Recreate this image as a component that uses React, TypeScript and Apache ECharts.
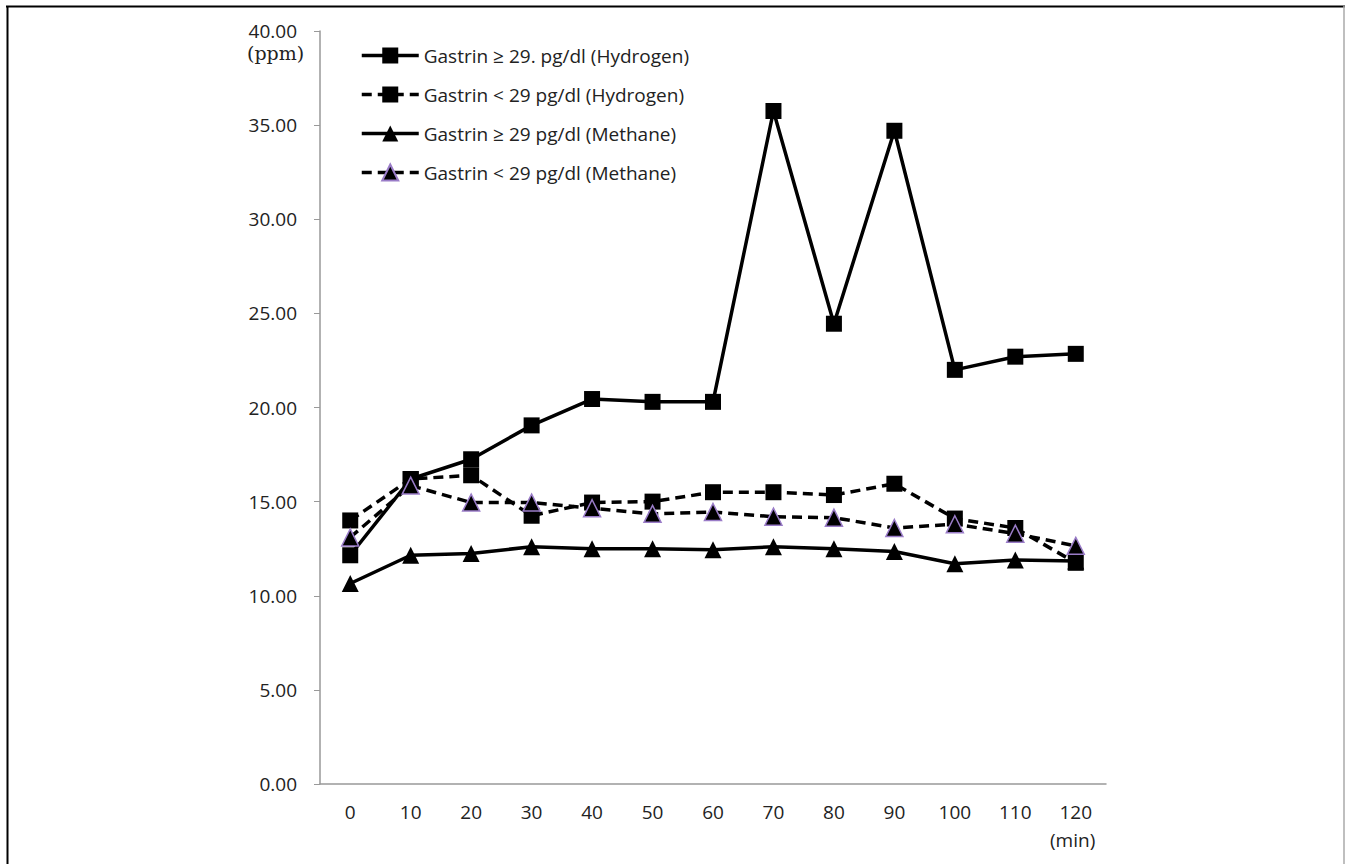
import React, { useEffect, useRef } from "react";
import * as echarts from "echarts";

const categories = ["0", "10", "20", "30", "40", "50", "60", "70", "80", "90", "100", "110", "120"];
const yTicks = [0, 5, 10, 15, 20, 25, 30, 35, 40];

const h2High = [12.15, 16.2, 17.25, 19.05, 20.45, 20.3, 20.3, 35.75, 24.45, 34.7, 22.0, 22.7, 22.85];
const h2Low = [14.0, 16.2, 16.4, 14.25, 14.95, 15.0, 15.5, 15.5, 15.35, 15.95, 14.1, 13.6, 11.75];
const ch4High = [10.65, 12.15, 12.25, 12.6, 12.5, 12.5, 12.45, 12.6, 12.5, 12.35, 11.7, 11.9, 11.85];
const ch4Low = [13.1, 15.85, 14.95, 14.95, 14.65, 14.35, 14.45, 14.2, 14.15, 13.6, 13.8, 13.3, 12.65];

const names = [
  "Gastrin \u2265 29. pg/dl (Hydrogen)",
  "Gastrin < 29 pg/dl (Hydrogen)",
  "Gastrin \u2265 29 pg/dl (Methane)",
  "Gastrin < 29 pg/dl (Methane)",
];

export default function App() {
  const ref = useRef<HTMLDivElement>(null);
  useEffect(() => {
    if (!ref.current) return;
    const chart = echarts.init(ref.current, undefined, { renderer: "svg" });
    const font = "'Open Sans', 'Noto Sans', sans-serif";
    const dash = [10, 6];
    const mk = (name: string, data: number[], symbol: string, dashed: boolean, border?: string) => ({
      name,
      type: "line",
      data,
      symbol,
      symbolSize: symbol === "rect" ? 16 : 17,
      showAllSymbol: true,
      lineStyle: { color: "#000", width: 3.5, type: dashed ? dash : "solid" },
      itemStyle: border
        ? { color: "#000", borderColor: border, borderWidth: 1.5 }
        : { color: "#000", borderWidth: 0 },
      emphasis: { disabled: true },
      z: 2,
    });
    chart.setOption({
      animation: false,
      backgroundColor: "#fff",
      grid: { left: 320, right: 239, top: 31, bottom: 80, containLabel: false },
      legend: {
        orient: "vertical",
        left: 355,
        top: 41,
        itemWidth: 57,
        itemHeight: 20,
        itemGap: 20,
        lineStyle: { width: 3.5 },
        textStyle: { fontFamily: font, fontSize: 19, color: "#222" },
        data: names,
      },
      xAxis: {
        type: "category",
        data: categories,
        boundaryGap: true,
        axisLine: { lineStyle: { color: "#999", width: 1.5 } },
        axisTick: { alignWithLabel: true, lineStyle: { color: "#999" }, length: 6 },
        axisLabel: { fontFamily: font, fontSize: 19, color: "#222", margin: 18 },
        splitLine: { show: false },
      },
      yAxis: {
        type: "value",
        min: 0,
        max: 40,
        interval: 5,
        axisLine: { show: true, lineStyle: { color: "#999", width: 1.5 } },
        axisTick: { show: true, lineStyle: { color: "#999" }, length: 6 },
        axisLabel: {
          fontFamily: font,
          fontSize: 19,
          color: "#222",
          margin: 23,
          formatter: (v: number) => (yTicks.includes(v) ? v.toFixed(2) : ""),
        },
        splitLine: { show: false },
      },
      graphic: [
        { type: "text", left: 247, top: 43, style: { text: "(ppm)", font: "19px 'DejaVu Serif', serif", fill: "#222" } },
        { type: "text", left: 1050, top: 830, style: { text: "(min)", font: `19px ${font}`, fill: "#222" } },
        { type: "line", shape: { x1: 6, y1: 6.5, x2: 1345, y2: 6.5 }, style: { stroke: "#000", lineWidth: 2 } },
        { type: "line", shape: { x1: 7.5, y1: 6, x2: 7.5, y2: 864 }, style: { stroke: "#000", lineWidth: 2 } },
        { type: "line", shape: { x1: 1344, y1: 6, x2: 1344, y2: 864 }, style: { stroke: "#aaa", lineWidth: 1.5 } },
      ],
      series: [
        mk(names[0], h2High, "rect", false),
        mk(names[1], h2Low, "rect", true),
        mk(names[2], ch4High, "triangle", false),
        mk(names[3], ch4Low, "triangle", true, "#9a7cc8"),
      ],
    });
    return () => chart.dispose();
  }, []);
  return <div ref={ref} style={{ position: "fixed", left: 0, top: 0, width: 1345, height: 864 }} />;
}
